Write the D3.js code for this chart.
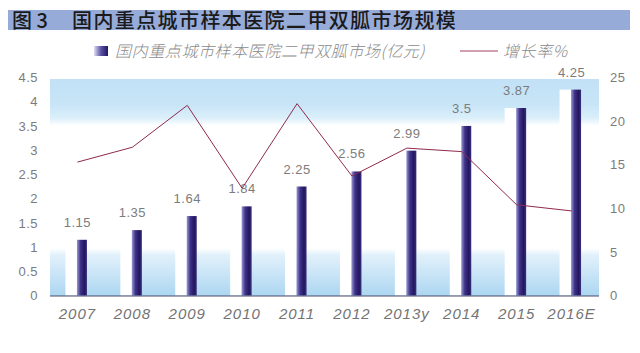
<!DOCTYPE html>
<html>
<head>
<meta charset="utf-8">
<script src="https://cdn.jsdelivr.net/npm/d3@7/dist/d3.min.js"></script>
<style>
  html, body { margin: 0; padding: 0; background: #fff; }
  svg { display: block; }
  text { font-family: "Liberation Sans", Arial, "Noto Sans CJK SC", sans-serif; }
</style>
</head>
<body>
<svg id="chart" width="640" height="353"></svg>
<script>
const years = ["2007", "2008", "2009", "2010", "2011", "2012", "2013y", "2014", "2015", "2016E"];
const market = [1.15, 1.35, 1.64, 1.84, 2.25, 2.56, 2.99, 3.5, 3.87, 4.25];
const growth = [15.3, 17.0, 21.8, 12.3, 22.0, 13.7, 16.9, 16.5, 10.4, 9.7];
const leftTicks = [0, 0.5, 1, 1.5, 2, 2.5, 3, 3.5, 4, 4.5];
const rightTicks = [0, 5, 10, 15, 20, 25];
const titleNum = "图 3";
const titleText = "国内重点城市样本医院二甲双胍市场规模";
const legendBar = "国内重点城市样本医院二甲双胍市场(亿元)";
const legendLine = "增长率%";

const svg = d3.select("#chart");
const defs = svg.append("defs");

const bg = defs.append("linearGradient").attr("id", "bgGrad")
  .attr("x1", 0).attr("y1", 0).attr("x2", 0).attr("y2", 1);
[[0, "#c2e1f6"], [0.12, "#c8e5f7"], [0.18, "#dbeffa"], [0.215, "#ffffff"],
 [0.78, "#ffffff"], [0.81, "#e2f1fb"], [1, "#acd6f1"]]
  .forEach(([o, c]) => bg.append("stop").attr("offset", o).attr("stop-color", c));

const barG = defs.append("linearGradient").attr("id", "barGrad")
  .attr("x1", 0).attr("y1", 0).attr("x2", 1).attr("y2", 0);
[[0, "#9a98d2"], [0.35, "#3f3389"], [0.75, "#23165e"], [1, "#3a3080"]]
  .forEach(([o, c]) => barG.append("stop").attr("offset", o).attr("stop-color", c));

const legG = defs.append("linearGradient").attr("id", "legGrad")
  .attr("x1", 0).attr("y1", 0).attr("x2", 1).attr("y2", 0);
[[0, "#e0dff2"], [0.5, "#5a52a6"], [1, "#23165e"]]
  .forEach(([o, c]) => legG.append("stop").attr("offset", o).attr("stop-color", c));

// Title
svg.append("rect").attr("x", 8).attr("y", 10).attr("width", 622).attr("height", 20)
  .attr("fill", "#97abd9");
svg.append("text").attr("x", 12).attr("y", 28).attr("font-size", 20).attr("font-weight", 500)
  .attr("fill", "#1a1a1a").style("font-family", "'Noto Sans CJK SC', sans-serif")
  .text(titleNum);
svg.append("text").attr("x", 72).attr("y", 28).attr("font-size", 20).attr("font-weight", 500)
  .attr("fill", "#1a1a1a").attr("letter-spacing", 1.4)
  .style("font-family", "'Noto Sans CJK SC', sans-serif")
  .text(titleText);

// Legend
svg.append("rect").attr("x", 94).attr("y", 46).attr("width", 14).attr("height", 10)
  .attr("fill", "url(#legGrad)");
svg.append("text").attr("x", 115).attr("y", 57).attr("font-size", 16).attr("font-style", "italic")
  .attr("font-weight", 300).attr("fill", "#8a8a8a").attr("letter-spacing", 0.6)
  .style("font-family", "'Noto Sans CJK SC', sans-serif").text(legendBar);
svg.append("line").attr("x1", 460).attr("x2", 498).attr("y1", 51).attr("y2", 51)
  .attr("stroke", "#a8405e").attr("stroke-width", 1.2);
svg.append("text").attr("x", 503).attr("y", 57).attr("font-size", 16).attr("font-style", "italic")
  .attr("font-weight", 300).attr("fill", "#8a8a8a").attr("letter-spacing", 0.6)
  .style("font-family", "'Noto Sans CJK SC', sans-serif").text(legendLine);

// Scales
const x = d3.scaleBand().domain(years).range([50, 599]).padding(0);
const yL = d3.scaleLinear().domain([0, 4.5]).range([295.5, 77.5]);
const yR = d3.scaleLinear().domain([0, 25]).range([295.5, 77.5]);
const cx = d => x(d) + x.bandwidth() / 2;

// Plot background
svg.append("rect").attr("x", 50).attr("y", 79).attr("width", 549).attr("height", 217)
  .attr("fill", "url(#bgGrad)");

// Bars (white highlight + gradient bar)
const data = years.map((y, i) => ({ year: y, v: market[i], g: growth[i] }));
svg.append("g").selectAll("rect").data(data).join("rect")
  .attr("x", d => cx(d.year) - 12).attr("width", 11.5)
  .attr("y", d => yL(d.v)).attr("height", d => yL(0) - yL(d.v))
  .attr("fill", "#ffffff");
svg.append("g").selectAll("rect").data(data).join("rect")
  .attr("x", d => cx(d.year) - 0.5).attr("width", 10)
  .attr("y", d => yL(d.v)).attr("height", d => yL(0) - yL(d.v))
  .attr("fill", "url(#barGrad)");

// Value labels
svg.append("g").selectAll("text").data(data).join("text")
  .attr("x", d => cx(d.year)).attr("y", d => yL(d.v) - 13)
  .attr("text-anchor", "middle").attr("font-size", 13).attr("fill", "#7c7c7c")
  .attr("letter-spacing", 0.5)
  .text(d => String(d.v));

// Growth line
const line = d3.line().x(d => cx(d.year)).y(d => yR(d.g));
svg.append("path").datum(data).attr("d", line)
  .attr("fill", "none").attr("stroke", "#8e2a4c").attr("stroke-width", 1);

// Axis baseline
svg.append("line").attr("x1", 50).attr("x2", 599).attr("y1", 296).attr("y2", 296)
  .attr("stroke", "#4a4a6a").attr("stroke-width", 1);

// Left axis
const axL = svg.append("g").attr("transform", "translate(50,0)")
  .call(d3.axisLeft(yL).tickValues(leftTicks).tickSize(0).tickPadding(12).tickFormat(d3.format("")));
axL.select(".domain").remove();
axL.selectAll("text").attr("font-size", 13).attr("fill", "#7c7c7c")
  .style("font-family", "'Liberation Sans', Arial, sans-serif").attr("letter-spacing", 0.5);

// Right axis
const axR = svg.append("g").attr("transform", "translate(599,0)")
  .call(d3.axisRight(yR).tickValues(rightTicks).tickSize(0).tickPadding(11).tickFormat(d3.format("")));
axR.select(".domain").remove();
axR.selectAll("text").attr("font-size", 13).attr("fill", "#7c7c7c")
  .style("font-family", "'Liberation Sans', Arial, sans-serif").attr("letter-spacing", 0.5);

// Bottom axis labels
const axB = svg.append("g").attr("transform", "translate(0,296)")
  .call(d3.axisBottom(x).tickSize(0).tickPadding(12));
axB.select(".domain").remove();
axB.selectAll("text").attr("font-size", 15).attr("font-style", "italic").attr("fill", "#747474")
  .attr("letter-spacing", 1)
  .style("font-family", "'Liberation Sans', Arial, sans-serif");
</script>
</body>
</html>
